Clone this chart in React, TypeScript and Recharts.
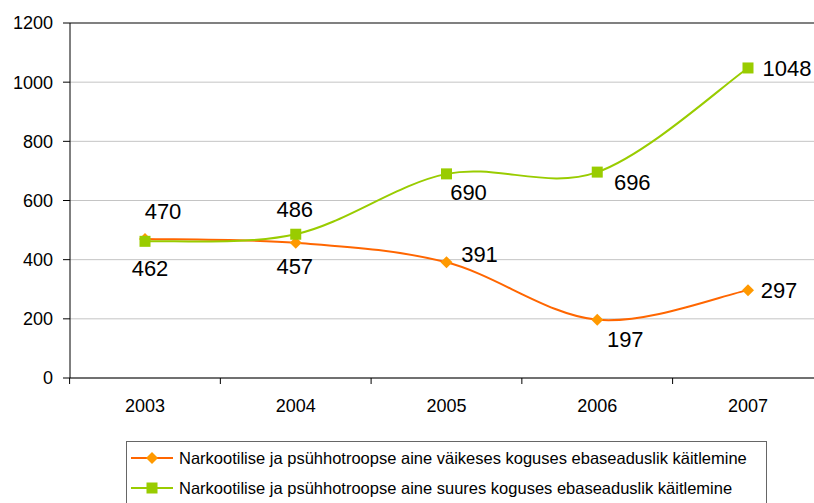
import React from 'react';
import {
  LineChart,
  Line,
  XAxis,
  YAxis,
  CartesianGrid,
  ReferenceLine,
  LabelList
} from 'recharts';

const years = ['2003', '2004', '2005', '2006', '2007'];
const smallAmount = [470, 457, 391, 197, 297];
const largeAmount = [462, 486, 690, 696, 1048];
const yTicks = [0, 200, 400, 600, 800, 1000, 1200];

const smallName = 'Narkootilise ja psühhotroopse aine väikeses koguses ebaseaduslik käitlemine';
const largeName = 'Narkootilise ja psühhotroopse aine suures koguses ebaseaduslik käitlemine';

// label nudges, [dx, dy] per point
const smallLabelShift = [[18, -27], [-1, 24], [33, -8], [28, 20], [31, 0]];
const largeLabelShift = [[5, 27], [-1, -25], [22, 19], [35, 10], [39, 1]];

const data = years.map((year, i) => ({
  year,
  small: smallAmount[i],
  large: largeAmount[i]
}));

const FONT = '"Liberation Sans", Arial, sans-serif';
const ORANGE_LINE = '#FF6600';
const ORANGE_DOT = '#FF9900';
const GREEN = '#99CC00';

// excel-like smoothed line (catmull-rom through the points)
const smoothCurve = (context: any) => {
  let pts: number[][] = [];
  return {
    areaStart() {},
    areaEnd() {},
    lineStart() {
      pts = [];
    },
    point(x: number, y: number) {
      pts.push([+x, +y]);
    },
    lineEnd() {
      if (!pts.length) return;
      context.moveTo(pts[0][0], pts[0][1]);
      for (let i = 0; i < pts.length - 1; i++) {
        const p0 = pts[i - 1] || pts[i];
        const p1 = pts[i];
        const p2 = pts[i + 1];
        const p3 = pts[i + 2] || p2;
        context.bezierCurveTo(
          p1[0] + (p2[0] - p0[0]) / 6,
          p1[1] + (p2[1] - p0[1]) / 6,
          p2[0] - (p3[0] - p1[0]) / 6,
          p2[1] - (p3[1] - p1[1]) / 6,
          p2[0],
          p2[1]
        );
      }
    }
  };
};

const Diamond = (props: any) => {
  const { cx, cy } = props;
  if (cx == null || cy == null) return null;
  const r = 6;
  return (
    <polygon
      points={`${cx},${cy - r} ${cx + r},${cy} ${cx},${cy + r} ${cx - r},${cy}`}
      fill={ORANGE_DOT}
    />
  );
};

const Square = (props: any) => {
  const { cx, cy } = props;
  if (cx == null || cy == null) return null;
  return <rect x={cx - 5.5} y={cy - 5.5} width={11} height={11} fill={GREEN} />;
};

const makeLabel = (shifts: number[][]) => (props: any) => {
  const { x, y, value, index } = props;
  const [dx, dy] = shifts[index] || [0, 0];
  return (
    <text
      x={x + dx}
      y={y + dy}
      textAnchor="middle"
      dominantBaseline="central"
      fontSize={22}
      fontFamily={FONT}
      fill="#000"
    >
      {value}
    </text>
  );
};

const XTick = (props: any) => {
  const { x, y, payload } = props;
  const half = 75.4;
  return (
    <g>
      <line x1={x - half} y1={378} x2={x - half} y2={384} stroke="#000" />
      <text x={x} y={y} dy="0.71em" textAnchor="middle" fontSize={18} fontFamily={FONT} fill="#000">
        {payload.value}
      </text>
    </g>
  );
};

const LegendRow = ({ top, name, marker }: { top: number; name: string; marker: 'diamond' | 'square' }) => (
  <div style={{ position: 'absolute', left: 0, top: top - 12, height: 24, display: 'flex', alignItems: 'center' }}>
    <svg width={52} height={24} style={{ display: 'block' }}>
      <line x1={4} y1={12} x2={46} y2={12} stroke={marker === 'diamond' ? ORANGE_LINE : GREEN} strokeWidth={2} />
      {marker === 'diamond' ? <Diamond cx={25} cy={12} /> : <Square cx={25} cy={12} />}
    </svg>
    <span style={{ fontSize: 16.5, fontFamily: FONT, color: '#000', whiteSpace: 'nowrap' }}>{name}</span>
  </div>
);

export default function App() {
  return (
    <div style={{ position: 'absolute', left: 0, top: 0, width: 814, height: 503, overflow: 'hidden', background: '#fff' }}>
      <LineChart
        width={830}
        height={503}
        data={data}
        margin={{ top: 23, right: 7, left: 0, bottom: 85 }}
      >
        <CartesianGrid vertical={false} stroke="#c4c4c4" />
        <ReferenceLine y={1200} stroke="#808080" strokeWidth={2} />
        <XAxis
          dataKey="year"
          padding={{ left: 75, right: 75 }}
          axisLine={{ stroke: '#000' }}
          tickLine={false}
          tickSize={6}
          tickMargin={15}
          height={40}
          tick={<XTick />}
          interval={0}
        />
        <YAxis
          width={70}
          domain={[0, 1200]}
          ticks={yTicks}
          axisLine={{ stroke: '#000' }}
          tickLine={{ stroke: '#000' }}
          tickSize={7}
          tickMargin={10}
          tick={{ fontSize: 18, fontFamily: FONT, fill: '#000' }}
        />
        <Line
          dataKey="small"
          name={smallName}
          type={smoothCurve as any}
          stroke={ORANGE_LINE}
          strokeWidth={2}
          dot={<Diamond />}
          activeDot={false}
          isAnimationActive={false}
        >
          <LabelList dataKey="small" content={makeLabel(smallLabelShift)} />
        </Line>
        <Line
          dataKey="large"
          name={largeName}
          type={smoothCurve as any}
          stroke={GREEN}
          strokeWidth={2}
          dot={<Square />}
          activeDot={false}
          isAnimationActive={false}
        >
          <LabelList dataKey="large" content={makeLabel(largeLabelShift)} />
        </Line>
      </LineChart>
      <div
        style={{
          position: 'absolute',
          left: 126,
          top: 441,
          width: 641,
          height: 80,
          border: '1px solid #666',
          boxSizing: 'border-box'
        }}
      >
        <LegendRow top={16} name={smallName} marker="diamond" />
        <LegendRow top={46} name={largeName} marker="square" />
      </div>
    </div>
  );
}
